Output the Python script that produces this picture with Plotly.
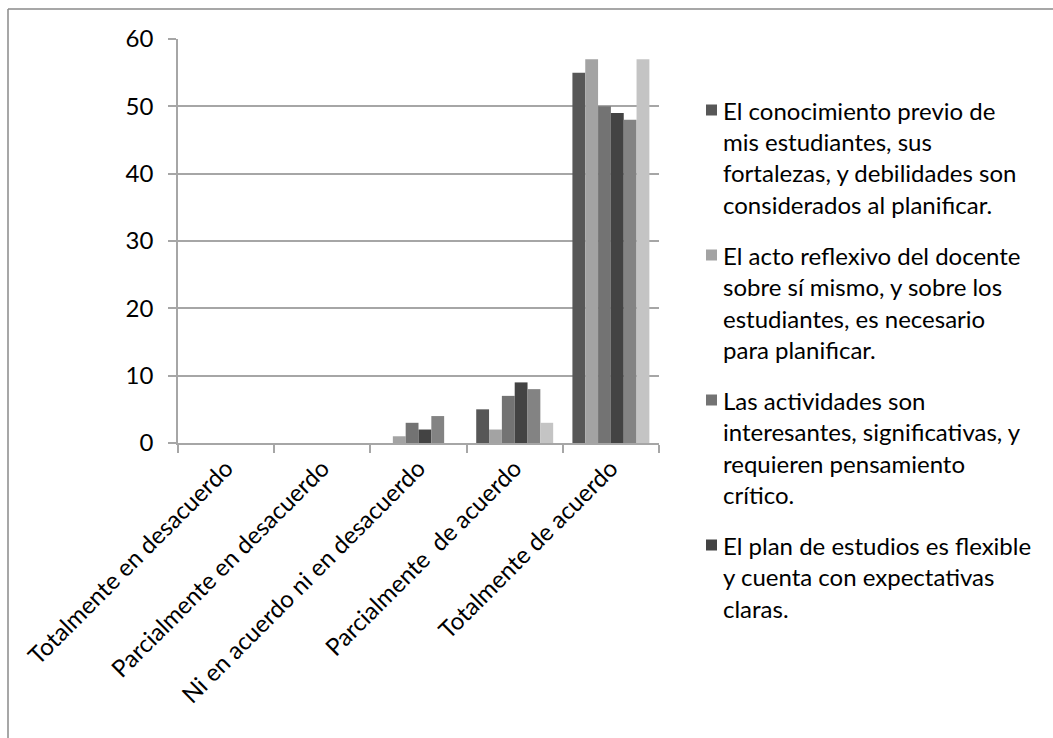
import plotly.graph_objects as go

# Response categories on the x axis
categories = [
    "Totalmente en desacuerdo",
    "Parcialmente en desacuerdo",
    "Ni en acuerdo ni en desacuerdo",
    "Parcialmente  de acuerdo",
    "Totalmente de acuerdo",
]

# Counts per statement (one list per series)
serie_1 = [0, 0, 0, 5, 55]
serie_2 = [0, 0, 1, 2, 57]
serie_3 = [0, 0, 3, 7, 50]
serie_4 = [0, 0, 2, 9, 49]
serie_5 = [0, 0, 4, 8, 48]
serie_6 = [0, 0, 0, 3, 57]

# Statement text, wrapped as shown in the legend column
serie_1_lines = ["El conocimiento previo de", "mis estudiantes, sus",
                 "fortalezas, y debilidades son", "considerados al planificar."]
serie_2_lines = ["El acto reflexivo del docente", "sobre sí mismo, y sobre los",
                 "estudiantes, es necesario", "para planificar."]
serie_3_lines = ["Las actividades son", "interesantes, significativas, y",
                 "requieren pensamiento", "crítico."]
serie_4_lines = ["El plan de estudios es flexible", "y cuenta con expectativas",
                 "claras."]

y_ticks = [0, 10, 20, 30, 40, 50, 60]

series = [
    (serie_1, serie_1_lines, "#575757"),
    (serie_2, serie_2_lines, "#a3a3a3"),
    (serie_3, serie_3_lines, "#737373"),
    (serie_4, serie_4_lines, "#434343"),
    (serie_5, ["Serie 5"], "#838383"),
    (serie_6, ["Serie 6"], "#c4c4c4"),
]

FONT = "Lato"
FS = 24
W, H = 1053, 738
L, R, T, B = 178, 394, 39, 295
PW, PH = W - L - R, H - T - B


def px_x(x):
    return (x - L) / PW


def px_y(y):
    return (H - B - y) / PH


fig = go.Figure()
for values, lines, color in series:
    fig.add_trace(go.Bar(
        x=categories, y=values, name=" ".join(lines),
        marker=dict(color=color, line=dict(width=0)),
        showlegend=False,
    ))

# Legend column drawn as text lines with square swatches
legend_starts = [110, 255, 400, 545]
line_step = 31.5
shapes = []
annotations = []
for (values, lines, color), y0 in zip(series[:4], legend_starts):
    shapes.append(dict(type="rect", xref="paper", yref="paper",
                       x0=px_x(706), x1=px_x(717),
                       y0=px_y(y0 + 5.5), y1=px_y(y0 - 5.5),
                       fillcolor=color, line=dict(width=0)))
    for i, text in enumerate(lines):
        annotations.append(dict(
            text=text, xref="paper", yref="paper",
            x=px_x(721), y=px_y(y0 + i * line_step),
            xanchor="left", yanchor="middle", showarrow=False,
            font=dict(family=FONT, size=FS, color="#000000"),
        ))

# Outer frame (top and left edges)
shapes.append(dict(type="line", xref="paper", yref="paper",
                   x0=px_x(8), x1=px_x(1060), y0=px_y(9), y1=px_y(9),
                   line=dict(color="#8a8a8a", width=1.5)))
shapes.append(dict(type="line", xref="paper", yref="paper",
                   x0=px_x(8), x1=px_x(8), y0=px_y(9), y1=px_y(745),
                   line=dict(color="#8a8a8a", width=1.5)))

fig.update_layout(
    width=W, height=H,
    margin=dict(l=L, r=R, t=T, b=B, autoexpand=False),
    paper_bgcolor="white", plot_bgcolor="white",
    barmode="group", bargap=0.2, bargroupgap=0,
    font=dict(family=FONT, size=FS, color="#000000"),
    shapes=shapes, annotations=annotations,
    showlegend=False,
    xaxis=dict(
        type="category", tickson="boundaries", ticks="outside", ticklen=8,
        tickcolor="#a6a6a6", tickwidth=1.5, showline=True,
        linecolor="#a6a6a6", linewidth=1.5, showgrid=False,
        tickangle=-45, tickfont=dict(family=FONT, size=FS, color="#000000"),
    ),
    yaxis=dict(
        range=[0, 60], tickvals=y_ticks, ticks="outside", ticklen=8,
        tickcolor="#a6a6a6", tickwidth=1.5, showline=True,
        linecolor="#a6a6a6", linewidth=1.5, showgrid=True,
        gridcolor="#a6a6a6", gridwidth=1.5, zeroline=False,
        ticklabelstandoff=10,
        tickfont=dict(family=FONT, size=FS, color="#000000"),
    ),
)

fig.write_html("out.html")
